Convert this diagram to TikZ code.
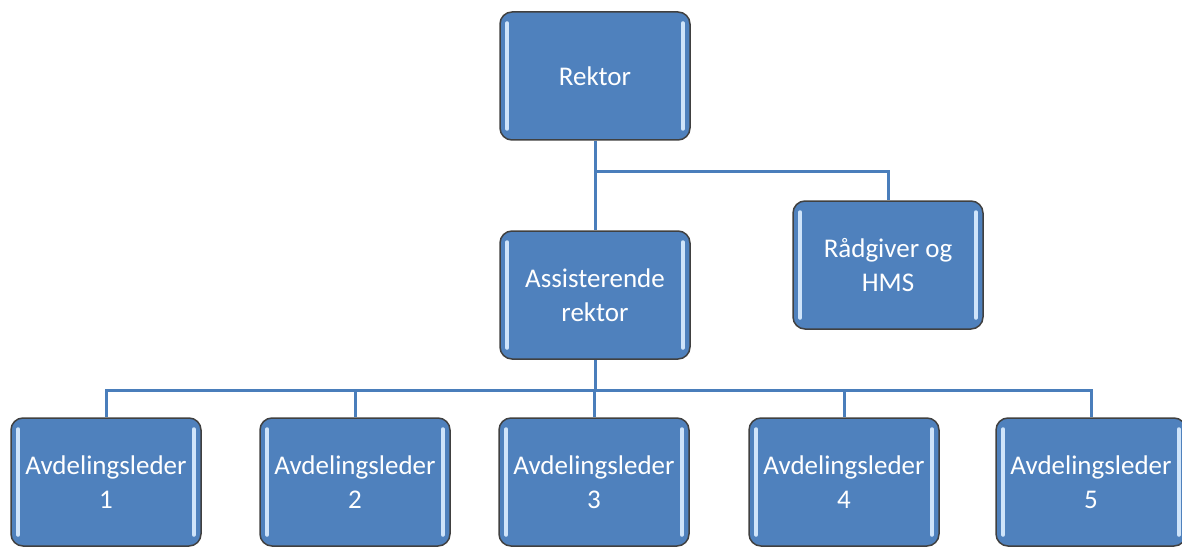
\documentclass[tikz,border=0pt]{standalone}
\usepackage{fontspec}
\setmainfont{Carlito}
\usetikzlibrary{calc}
\definecolor{boxblue}{HTML}{4F81BD}
\definecolor{lineblue}{HTML}{4A7EBB}
\definecolor{edgegray}{HTML}{404040}
\definecolor{hilite}{HTML}{CFE4FA}
\tikzset{
  orgbox/.style={draw=edgegray, line width=1.5pt, fill=boxblue, rounded corners=12pt,
    minimum width=190pt, minimum height=128pt, inner sep=2pt, align=center,
    text=white, font=\fontsize{27}{34}\selectfont},
  link/.style={draw=lineblue, line width=3pt},
  glow/.style={draw=hilite, line width=4pt, line cap=round}
}
\begin{document}
\begin{tikzpicture}[x=1pt,y=-1pt]
\useasboundingbox (0,0) rectangle (1182,548);
\clip (0,0) rectangle (1182,548);
\node[orgbox] (rek) at (595,76) {Rektor};
\node[orgbox] (ass) at (595,295) {Assisterende\\rektor};
\node[orgbox] (rad) at (888,265) {Rådgiver og\\HMS};
\node[orgbox] (a1) at (106,482) {Avdelingsleder\\1};
\node[orgbox] (a2) at (355,482) {Avdelingsleder\\2};
\node[orgbox] (a3) at (594,482) {Avdelingsleder\\3};
\node[orgbox] (a4) at (844,482) {Avdelingsleder\\4};
\node[orgbox] (a5) at (1091,482) {Avdelingsleder\\5};
\foreach \n in {rek,ass,rad,a1,a2,a3,a4,a5}{
  \draw[glow] ($(\n.north west)+(8,12)$) -- ($(\n.south west)+(8,-12)$);
  \draw[glow] ($(\n.north east)+(-8,12)$) -- ($(\n.south east)+(-8,-12)$);
}
\coordinate (j1) at (595,172);
\coordinate (j2) at (595,390);
\draw[link] (rek.south) -- (ass.north);
\draw[link] (j1) -| (rad.north);
\draw[link] (ass.south) -- (j2);
\foreach \n in {a1,a2,a3,a4,a5}{
  \draw[link] (j2) -| (\n.north);
}
\end{tikzpicture}
\end{document}
